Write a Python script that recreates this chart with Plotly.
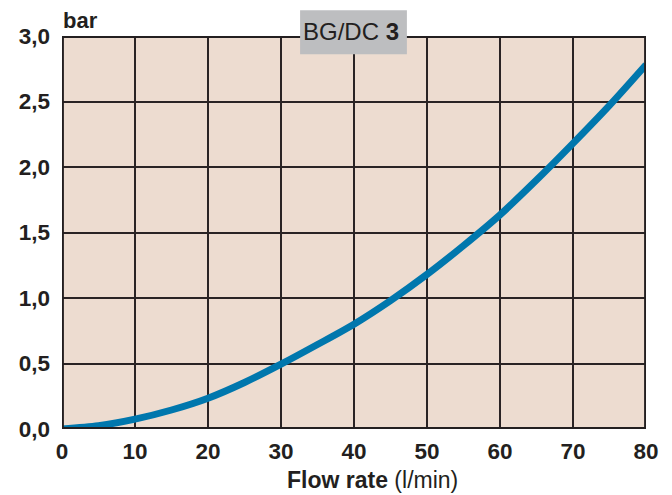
import plotly.graph_objects as go

# Pressure drop curve, BG/DC 3
flow_lpm = [0, 5, 10, 15, 20, 25, 30, 35, 40, 45, 50, 55, 60, 65, 70, 75, 80]
pressure_bar = [0.0, 0.025, 0.075, 0.145, 0.235, 0.355, 0.495, 0.645, 0.80, 0.98, 1.18, 1.40, 1.635, 1.90, 2.18, 2.47, 2.78]

x_ticks = [0, 10, 20, 30, 40, 50, 60, 70, 80]
x_tick_text = ["0", "10", "20", "30", "40", "50", "60", "70", "80"]
y_ticks = [0.0, 0.5, 1.0, 1.5, 2.0, 2.5, 3.0]
y_tick_text = ["0,0", "0,5", "1,0", "1,5", "2,0", "2,5", "3,0"]

W, H = 672, 495
L, R, T, B = 61.5, 25.5, 35.7, 65.5

ink = "#231f20"
font_family = "Liberation Sans, Arial, sans-serif"

fig = go.Figure()
fig.add_trace(go.Scatter(
    x=flow_lpm, y=pressure_bar, mode="lines",
    line=dict(color="#0077ad", width=7, shape="spline", smoothing=0.8),
    hoverinfo="skip", showlegend=False,
))

fig.update_layout(
    width=W, height=H,
    margin=dict(l=L, r=R, t=T, b=B, pad=0),
    paper_bgcolor="white",
    plot_bgcolor="#eddcd0",
    font=dict(family=font_family, color=ink),
    xaxis=dict(
        range=[0, 80], tickvals=x_ticks, ticktext=x_tick_text,
        showgrid=True, gridcolor="#2a2324", gridwidth=1.5,
        zeroline=False, showline=False, ticks="",
        ticklabelstandoff=6,
        tickfont=dict(size=22.5, family=font_family, color=ink, weight="bold"),
        fixedrange=True,
    ),
    yaxis=dict(
        range=[0, 3], tickvals=y_ticks, ticktext=y_tick_text,
        showgrid=True, gridcolor="#2a2324", gridwidth=1.5,
        zeroline=False, showline=False, ticks="",
        ticklabelstandoff=11,
        tickfont=dict(size=22.5, family=font_family, color=ink, weight="bold"),
        fixedrange=True,
    ),
)

# heavy frame around the plotting area
fig.add_shape(type="rect", xref="x", yref="y", x0=0, x1=80, y0=0, y1=3,
              line=dict(color=ink, width=3.8), fillcolor="rgba(0,0,0,0)", layer="above")

pw, ph = W - L - R, H - T - B

# grey model label box, sitting over the top frame line
fig.add_shape(type="rect", xref="paper", yref="paper",
              x0=(300 - L) / pw, x1=(407 - L) / pw,
              y0=(H - B - 54) / ph, y1=(H - B - 10) / ph,
              line=dict(width=0), fillcolor="#bdbec0", layer="above")
fig.add_annotation(xref="paper", yref="paper",
                   x=(351 - L) / pw, y=(H - B - 31.5) / ph,
                   text="BG/DC <b>3</b>", showarrow=False,
                   font=dict(size=24, family=font_family, color=ink),
                   xanchor="center", yanchor="middle")

# unit label above the y axis
fig.add_annotation(xref="paper", yref="paper",
                   x=(60 - L) / pw, y=(H - B - 20) / ph,
                   text="<b>bar</b>", showarrow=False,
                   font=dict(size=22, family=font_family, color=ink),
                   xanchor="left", yanchor="middle")

# x axis title
fig.add_annotation(xref="paper", yref="paper",
                   x=(372.5 - L) / pw, y=(H - B - 481) / ph,
                   text="<b>Flow rate</b> (l/min)", showarrow=False,
                   font=dict(size=23, family=font_family, color=ink),
                   xanchor="center", yanchor="middle")

fig.write_html("out.html")
